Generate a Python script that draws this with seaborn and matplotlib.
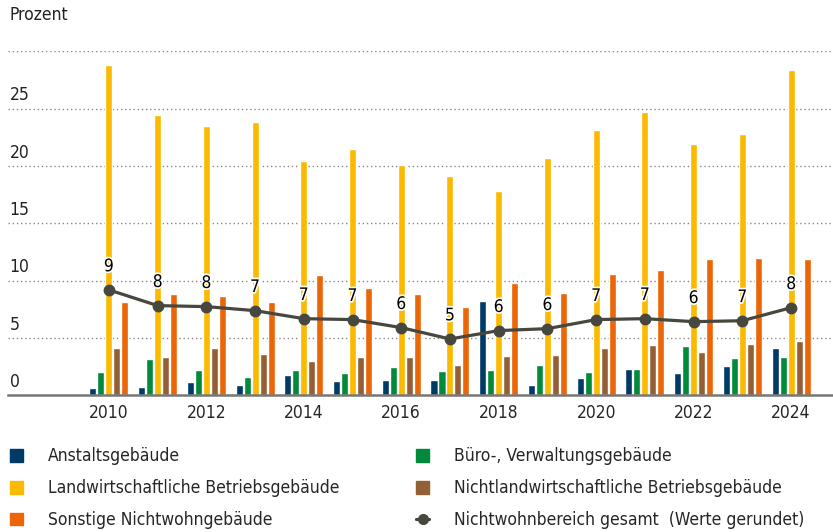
import pandas as pd
import numpy as np
import matplotlib.pyplot as plt
import matplotlib.patheffects as pe
from matplotlib.lines import Line2D
from matplotlib.patches import Patch
import seaborn as sns

# Data (Prozent)
years = list(range(2010, 2025))
anstalt = [0.66, 0.75, 1.19, 0.93, 1.80, 1.27, 1.36, 1.36, 8.26, 0.93, 1.54, 2.32, 1.97, 2.58, 4.15]
buero = [2.06, 3.20, 2.23, 1.63, 2.23, 1.97, 2.50, 2.15, 2.23, 2.67, 2.06, 2.32, 4.33, 3.28, 3.37]
landw = [28.8, 24.4, 23.5, 23.85, 20.47, 21.5, 20.1, 19.16, 17.77, 20.65, 23.09, 24.66, 21.87, 22.74, 28.4]
nichtlandw = [4.15, 3.37, 4.15, 3.63, 3.02, 3.37, 3.37, 2.67, 3.46, 3.54, 4.15, 4.42, 3.80, 4.50, 4.76]
sonstige = [8.17, 8.87, 8.70, 8.17, 10.52, 9.39, 8.87, 7.73, 9.83, 8.95, 10.61, 10.96, 11.92, 12.00, 11.92]
gesamt = [9.19, 7.82, 7.73, 7.38, 6.68, 6.60, 5.90, 4.91, 5.64, 5.81, 6.60, 6.68, 6.42, 6.50, 7.64]
gesamt_labels = [9, 8, 8, 7, 7, 7, 6, 5, 6, 6, 7, 7, 6, 7, 8]

series = ["Anstaltsgebäude", "Büro-, Verwaltungsgebäude", "Landwirtschaftliche Betriebsgebäude",
          "Nichtlandwirtschaftliche Betriebsgebäude", "Sonstige Nichtwohngebäude"]
colors = ["#003A66", "#008A3A", "#FBBA00", "#955F36", "#EB6608"]
line_label = "Nichtwohnbereich gesamt  (Werte gerundet)"
line_color = "#47473F"
y_ticks = [0, 5, 10, 15, 20, 25]
x_tick_years = [2010, 2012, 2014, 2016, 2018, 2020, 2022, 2024]

df = pd.DataFrame({"Jahr": years, series[0]: anstalt, series[1]: buero, series[2]: landw,
                   series[3]: nichtlandw, series[4]: sonstige})
long = df.melt(id_vars="Jahr", var_name="Art", value_name="Prozent")

sns.set_style("white")
plt.rcParams['font.family'] = ['DejaVu Sans']
plt.rcParams['font.stretch'] = 'condensed'

fig = plt.figure(figsize=(8.33, 5.32), dpi=100)
ax = fig.add_axes([0.0096, 0.257, 0.9904, 0.6467])

sns.barplot(data=long, x="Jahr", y="Prozent", hue="Art", hue_order=series,
            palette=colors, width=0.82, gap=0.12, saturation=1, legend=False, ax=ax)

xpos = np.arange(len(years))
ax.plot(xpos, gesamt, color=line_color, lw=2.3, marker="o", markersize=7.5, zorder=5)
for x, y, lab in zip(xpos, gesamt, gesamt_labels):
    ax.annotate(str(lab), (x, y), xytext=(0, 17), textcoords="offset points",
                ha="center", va="center", fontsize=12.5, color="black", zorder=6,
                path_effects=[pe.withStroke(linewidth=2.5, foreground="white")])

ax.set_xlim(-2.07, 14.86)
ax.set_ylim(0, 30)
ax.set_yticks([5, 10, 15, 20, 25, 30])
ax.yaxis.grid(True, linestyle=(0, (1, 2)), color="#888888", linewidth=1)
ax.set_axisbelow(True)
ax.tick_params(axis="y", left=False, labelleft=False)
ax.set_xticks([years.index(y) for y in x_tick_years])
ax.set_xticklabels([str(y) for y in x_tick_years], fontsize=12.5)
ax.tick_params(axis="x", length=0, pad=6)
ax.set_xlabel("")
ax.set_ylabel("")
for s in ["top", "right", "left"]:
    ax.spines[s].set_visible(False)
ax.spines["bottom"].set_color("#777777")
ax.spines["bottom"].set_linewidth(1.8)

for t in y_ticks:
    ax.annotate(str(t), (0.002, t), xycoords=ax.get_yaxis_transform(), xytext=(0, 3),
                textcoords="offset points", ha="left", va="bottom", fontsize=12.5, color="#222222")
fig.text(0.012, 0.972, "Prozent", ha="left", va="center", fontsize=12.5, color="#222222")

handles = [Patch(color=colors[0]), Patch(color=colors[2]), Patch(color=colors[4]),
           Patch(color=colors[1]), Patch(color=colors[3]),
           Line2D([0], [0], color=line_color, lw=2.3, marker="o", markersize=7)]
labels = [series[0], series[2], series[4], series[1], series[3], line_label]
fig.legend(handles, labels, ncol=2, loc="upper left", bbox_to_anchor=(0.012, 0.159),
           frameon=False, fontsize=12.5, handlelength=0.75, handleheight=0.75,
           handletextpad=1.45, columnspacing=4.4, labelspacing=0.8, borderaxespad=0,
           borderpad=0)

plt.savefig("out.png", dpi=100)
